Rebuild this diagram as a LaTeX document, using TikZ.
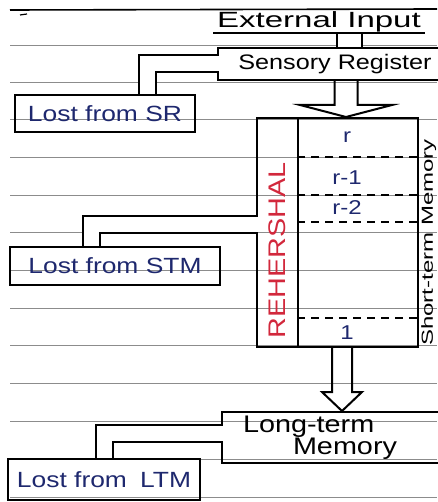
\documentclass[tikz,border=0pt]{standalone}
\usepackage{fontspec}
\setmainfont{Liberation Sans}[FakeStretch=1.2]
\newfontfamily\widehand{Liberation Sans}[FakeStretch=1.5]
\definecolor{inkblue}{RGB}{30,40,110}
\definecolor{inkred}{RGB}{210,40,60}

\begin{document}
\begin{tikzpicture}[
    x=1pt, y=-1pt,
    box/.style={draw, line width=2pt, inner sep=0pt},
    lost/.style={box, text=inkblue, font=\fontsize{22}{26}\selectfont},
    pipe/.style={line width=2pt, double=white, double distance=15pt},
    blockarrow/.style={line width=2pt, line join=miter},
    ruled/.style={black!45, line width=0.8pt},
    dashline/.style={line width=1.5pt, dash pattern=on 8pt off 6pt},
    row/.style={text=inkblue, font=\fontsize{20}{24}\selectfont}
]
\useasboundingbox (0,0) rectangle (437,502);
% ruled paper
\foreach \y in {45,82,119.5,157.5,195,232.5,270,308,345,383,421,459,497}
    \draw[ruled] (10,\y) -- (437,\y);
\draw[line width=1.6pt] (10,10) -- (437,9);
\draw[line width=1.2pt] (20,15) -- (27,14);

% External input and sensory register
\node[minimum width=212pt, minimum height=23pt, inner sep=0pt, outer sep=0pt, font=\widehand\fontsize{22}{26}\selectfont] (input) at (319,21.5) {External Input};
\node[box, minimum width=234pt, minimum height=32pt, font=\fontsize{21}{25}\selectfont] (sr) at (335,64) {Sensory Register};
\node[lost, minimum width=180pt, minimum height=37pt] (lostsr) at (105,113.5) {Lost from SR};

% Short-term memory
\node[box, minimum width=41pt, minimum height=229pt] (reh) at (277.5,232.5) {};
\node[box, minimum width=120pt, minimum height=229pt] (stm) at (358,232.5) {};
\node[rotate=90, text=inkred, font=\fontsize{24}{28}\selectfont] (rehlabel) at ([yshift=-18pt]reh.center) {REHERSHAL};
\node[rotate=90, anchor=north, inner sep=0pt, font=\widehand\fontsize{16}{20}\selectfont] (stmlabel) at ([xshift=2pt,yshift=-10pt]stm.east) {Short-term Memory};
\foreach \y in {157,195,222,318}
    \draw[dashline] (stm.west |- 0,\y) -- (stm.east |- 0,\y);
\foreach \t/\y in {r/137,r-1/178,r-2/208,1/333}
    \node[row] (row\y) at (347,\y) {\t};
\node[lost, minimum width=210pt, minimum height=38pt] (loststm) at (115,266) {Lost from STM};

% Long-term memory
\node[box, text width=198pt, inner xsep=21pt, minimum height=51pt, align=left, font=\fontsize{24}{19}\selectfont] (ltm) at (342,437.5) {Long-term\\\hspace*{50pt}Memory};
\node[lost, minimum width=192pt, minimum height=41pt] (lostltm) at (104,479.5) {Lost from\hspace{0.6em}LTM};

% losses
\draw[pipe] ([xshift=2pt]sr.west) -| ([xshift=42pt]lostsr.north);
\draw[pipe] ([xshift=2pt,yshift=8pt]reh.west) -| ([xshift=-23.5pt]loststm.north);
\draw[pipe] ([xshift=2pt,yshift=4pt]ltm.west) -| (lostltm.north);

% flow down
\coordinate (a0) at (349.5,0);
\coordinate (a1) at (346,0);
\coordinate (a2) at (342,0);
\draw[pipe, double distance=23pt] (input.south -| a0) -- (a0 |- sr.north);
\draw[line width=2pt] (input.south west) -- (input.south east);
\draw[blockarrow] (a1 |- sr.south) ++(-11.5,0) -- ++(0,24) -- ++(-34.5,0) -- (a1 |- stm.north) -- ++(46,-12) -- ++(-34.5,0) -- ++(0,-24);
\draw[blockarrow] (a2 |- stm.south) ++(-10,0) -- ++(0,44) -- ++(-10,0) -- (a2 |- ltm.north) -- ++(20,-19) -- ++(-10,0) -- ++(0,-44);
\end{tikzpicture}
\end{document}
